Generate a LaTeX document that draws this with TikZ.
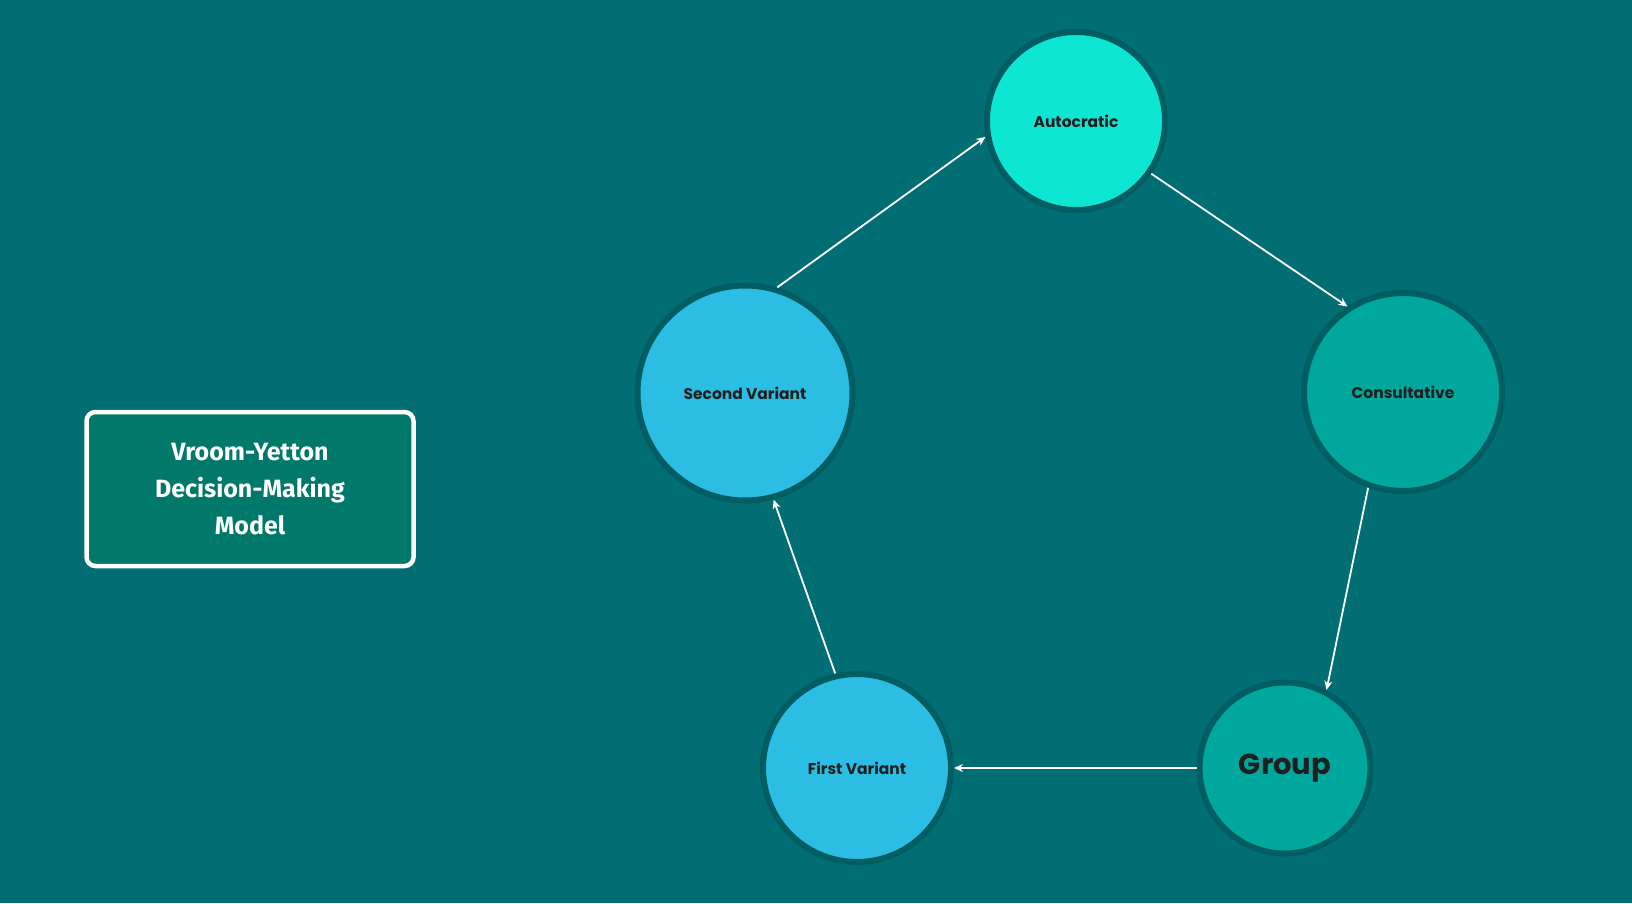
\documentclass[tikz,border=0pt]{standalone}
\usepackage{fontspec}
\setmainfont{Poppins}
\newfontfamily\boxfont{Fira Sans}
\usetikzlibrary{arrows.meta}
\definecolor{bg}{HTML}{006E73}
\definecolor{ring}{HTML}{005E62}
\definecolor{auto}{HTML}{0EE6D4}
\definecolor{cons}{HTML}{00A79D}
\definecolor{vari}{HTML}{2BBDE3}
\definecolor{boxfill}{HTML}{00786A}
\tikzset{
  circ/.style={circle,draw=ring,line width=6pt,inner sep=0pt,text=black!88,font=\bfseries\fontsize{15.5}{18}\selectfont},
  arr/.style={draw=white,line width=1.8pt,-{Stealth[length=9pt,width=8pt]}},
}
\begin{document}
\begin{tikzpicture}[x=1pt,y=-1pt]
\fill[bg] (0,0) rectangle (1632,903);
\useasboundingbox (0,0) rectangle (1632,903);
\node[draw=white,line width=4.5pt,rounded corners=9pt,fill=boxfill,minimum width=327pt,minimum height=154pt,
  align=center,text=white,font=\boxfont\bfseries\fontsize{25}{37}\selectfont] (title) at (250,489)
  {Vroom-Yetton\\Decision-Making\\Model};
\node[circ,fill=auto,minimum size=178pt] (a) at (1076,121) {Autocratic};
\node[circ,fill=cons,minimum size=198pt] (c) at (1403,392) {Consultative};
\node[circ,fill=cons,minimum size=171pt,font=\bfseries\fontsize{29}{34}\selectfont] (g) at (1285,768) {Group};
\node[circ,fill=vari,minimum size=188pt] (f) at (857,768) {First Variant};
\node[circ,fill=vari,minimum size=215pt] (s) at (745,393) {Second Variant};
\draw[arr] (a.-35) -- (c.123);
\draw[arr] (c.-110) -- (g.62);
\draw[arr] (g.west) -- (f.east);
\draw[arr] (f.103) -- (s.-75);
\draw[arr] (s.73) -- (a.-170);
\end{tikzpicture}
\end{document}
